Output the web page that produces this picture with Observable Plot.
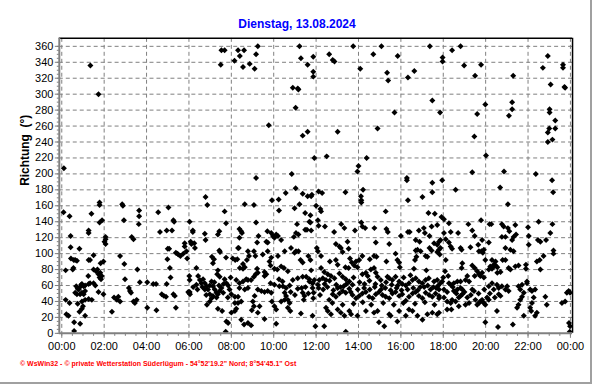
<!DOCTYPE html>
<html><head><meta charset="utf-8">
<script src="https://cdn.jsdelivr.net/npm/d3@7"></script>
<script src="https://cdn.jsdelivr.net/npm/@observablehq/plot@0.6"></script>
<style>
body{margin:0;background:#fff;}
#wrap{position:relative;width:592px;height:384px;box-sizing:border-box;border-right:2px solid #a0a0a0;border-bottom:2px solid #a0a0a0;overflow:hidden;font-family:"Liberation Sans",Arial,sans-serif;background:#fff;}
#title{position:absolute;left:0;width:594px;top:17px;text-align:center;color:#0000ff;font-weight:bold;font-size:12px;z-index:2;}
#foot{position:absolute;left:20px;top:360px;color:#ff0000;font-size:7px;font-weight:bold;z-index:2;white-space:nowrap;}
#chart{position:absolute;left:0;top:0;}
</style></head>
<body>
<div id="wrap">
<div id="title">Dienstag, 13.08.2024</div>
<div id="chart"></div>
<div id="foot">© WsWin32 - © private Wetterstation Süderlügum - 54°52'19.2" Nord; 8°54'45.1" Ost</div>
</div>
<script>
// [minute of day, Richtung in degrees]
const block0006 = [
[6,207],[81,336],[104,300],
[5,152],[22,147],[84,150],[107,164],[107,161],[171,162],[173,160],[219,154],[219,147],[218,137],[176,142],[114,142],[107,139],[273,152],[302,158],[316,142],[318,140],[362,140],
[76,129],[76,126],[25,122],[124,121],[124,118],[124,112],[121,115],[198,121],[203,118],[278,127],[297,129],[312,129],
[25,108],[50,106],[90,98],[26,94],[34,92],[43,91],[38,92],[76,92],[80,92],[110,88],[118,90],[165,97],[177,87],[300,106],[304,106],[299,93],
[330,99],[336,97],[344,100],[348,113],[348,109],[353,103],[355,94],[327,100],[323,101],
[11,79],[33,82],[31,80],
[75,72],[90,80],[97,78],[101,80],[104,74],[109,76],[113,72],[107,70],[111,68],
[76,62],[80,63],[214,80],[306,82],[308,70],[361,72],[179,68],[221,64],[242,64],[259,62],[267,62],[297,62],[190,57],[193,53],[196,51],
[41,59],[48,55],[52,58],[57,62],[62,59],[66,60],[38,51],[43,49],[52,49],[57,51],[62,49],[66,53],[45,56],[55,61],
[90,63],[95,60],[104,52],[118,49],
[11,42],[22,38],[45,37],[57,40],[66,42],[76,43],[85,42],
[148,45],[156,42],[160,46],[165,40],[203,40],[207,38],[212,42],
[283,49],[289,47],[295,46],[316,49],[320,47],[360,51],
[242,32],[268,29],[323,32],[60,34],[57,31],[50,27],[66,22],[142,27],[13,24],[19,22],[35,14],[52,12],[35,3]
];
const block0612 = [
[452,355],[461,355],[499,355],[516,355],[504,348],[555,360],[550,350],[489,342],[513,334],[532,338],[546,332],[450,337],
[673,360],[677,345],[712,347],[696,337],[712,328],[712,322],[654,308],[668,307],[670,306],[662,283],[586,261],[696,253],[682,248],[715,220],[651,200],[550,195],
[407,171],[412,161],[461,153],[465,138],[371,129],[371,127],[405,125],[407,117],[442,124],[446,128],
[365,115],[367,112],[375,113],[377,107],[446,104],[448,102],[425,96],[431,93],[428,88],[465,95],[484,94],[491,92],[497,93],
[381,82],[442,79],[440,74],[447,71],[362,67],[386,72],
[400,68],[405,63],[410,59],[414,55],[419,60],[424,65],[428,59],[433,55],[438,51],[442,49],[447,53],[452,57],[457,51],[461,68],[466,63],[471,60],[475,55],[480,49],
[391,67],[395,63],[405,55],[419,49],[428,47],[438,45],
[372,58],[384,55],[398,58],[409,48],[432,64],[445,60],[458,62],[470,45],[478,70],
[362,52],[411,36],[419,40],[424,44],[442,31],[454,28],[466,15],[471,13],[464,2],[480,26],[490,28],[494,31],[490,38],[499,38],[508,40],[490,46],[499,46],[508,17],[516,11],[527,13],[536,10],
[503,131],[508,128],[510,126],[503,120],[499,107],[518,162],[544,161],[550,139],[557,122],[553,114],[582,128],[583,114],[595,167],[614,168],[615,154],
[634,176],[662,182],[682,175],[696,172],[708,174],[673,162],[659,157],[689,151],[704,148],[666,137],[704,139],[689,130],[694,130],[706,129],[663,126],[670,124],
[593,126],[598,122],[602,120],[607,124],[612,122],[621,117],[657,121],[579,115],
[501,107],[527,103],[544,103],[583,103],[548,97],[530,97],[524,92],[513,87],
[569,99],[593,95],[588,90],[591,85],[631,103],[649,107],[659,101],[663,103],[670,103],[612,97],[676,92],[682,89],[698,97],[704,92],
[518,83],[513,81],[504,82],
[544,71],[549,74],[555,76],[553,81],[574,72],[579,74],[574,77],
[602,81],[610,80],[621,84],[629,82],[640,78],
[494,67],[503,63],[513,65],[522,68],[527,67],[536,67],
[503,57],[518,55],[527,57],
[555,55],[565,53],[574,52],[583,53],[593,51],
[591,63],[602,61],[616,59],[626,59],[635,57],[645,60],[654,67],[668,69],[682,71],[692,71],[701,68],
[615,68],[625,65],[648,52],[660,48],[668,56],[690,58],[698,50],
[631,51],[635,47],[640,42],[631,42],[645,38],[647,28],[640,32],
[679,57],[682,51],[687,47],[685,42],
[710,63],[710,57],[713,51],
[546,47],[541,40],[544,34],[538,29],[555,26],[560,34],
[574,18],[595,40],[602,34],[607,30],[621,40],[607,12],[677,25],[710,22],
[381,61],[358,52],[363,49]
];
const block1218 = [
[825,360],[757,350],[767,343],[772,341],[845,332],[882,350],[905,360],[951,348],[921,327],[924,317],[980,321],[998,329],[1042,360],[1078,346],[1078,341],[1049,292],[1071,277],[942,277],[894,257],[781,253],[750,222],[863,220],[840,210],[837,203],[977,195],[977,192],[1049,189],[1077,192],
[737,176],[727,178],[706,172],[803,177],[847,172],[848,167],[848,164],[853,180],[980,167],[1021,171],[1049,177],
[720,160],[734,153],[732,156],[917,153],[1038,151],[1056,150],
[701,140],[725,142],[727,135],[745,134],[791,137],[800,132],[830,129],[848,139],[851,134],[859,132],[885,132],[919,131],[923,127],[771,127],
[980,127],[985,127],[1011,129],[1025,132],[1028,126],[1047,134],[1063,136],
[960,122],[889,114],[927,112],
[1041,122],[1054,113],[1063,111],[1072,117],[1002,117],[1013,115],
[722,107],[725,103],[776,112],[786,109],[790,107],[809,115],[795,102],[812,106],
[734,97],[1002,104],[1007,105],[1016,103],[1030,97],[1035,96],[1041,107],[1047,104],[1063,102],[1070,99],
[945,100],[950,92],[955,89],[957,83],[1004,96],[1000,92],[884,97],[891,96],[872,93],
[759,90],[776,92],[781,86],
[816,94],[821,89],[833,90],[842,92],[851,97],[803,83],[812,82],[828,85],[837,83],
[919,90],[1032,79],[997,81],
[706,79],[734,82],[743,77],[753,74],[729,67],[739,69],[748,67],[762,72],[772,69],[786,75],[795,71],[804,68],[814,65],[823,61],
[851,74],[861,76],[866,72],[875,80],[884,82],[889,76],
[894,71],[903,67],[922,71],[927,69],[936,67],[945,71],
[701,65],[710,63],[715,67],[725,61],[727,57],
[955,65],[964,62],[974,60],[983,63],[993,67],[1002,69],[1011,65],[1021,63],[1030,67],[1039,69],[1054,65],[1063,67],[1072,63],
[712,44],[731,48],[744,62],[758,66],[777,61],[789,58],[806,62],[826,70],[843,64],[857,62],[871,66],[888,62],[906,60],[918,64],[934,61],[951,60],[968,70],[987,73],[1015,58],[1036,60],[1052,58],[1066,60],
[757,42],[767,49],[776,46],[786,50],[795,53],[804,51],[814,56],[823,48],[833,44],[842,47],[851,50],[861,52],[870,46],[880,44],[889,49],[898,52],[908,48],[917,46],[927,44],[936,50],[945,52],[955,47],[964,49],[974,41],[983,46],[993,50],[1002,52],[1011,47],[1021,44],[1030,51],[1040,48],[1049,46],[1058,50],[1068,44],
[740,55],[752,58],[769,54],[781,57],[798,59],[818,52],[838,55],[856,57],[872,55],[886,58],[904,55],[916,57],[931,54],[948,57],[962,54],[979,55],[995,57],[1008,54],[1026,58],[1044,55],[1060,57],
[748,32],[753,28],[762,24],[781,30],[790,26],[800,22],[814,28],[819,24],[837,22],[861,28],[884,26],[894,28],[898,14],[913,9],[927,24],[931,22],[950,15],[955,28],[974,22],[983,30],[993,28],[1007,22],[1021,17],[1035,24],[1049,26],[1063,24],
[766,38],[795,36],[826,37],[852,39],[876,36],[910,38],[940,36],[967,38],[1000,37],[1028,39],[1055,36],
[718,9],[743,9],[804,2]
];
const block1824 = [
[1129,360],[1105,355],[1139,336],[1187,337],[1170,323],[1278,323],[1376,348],[1362,333],[1419,337],[1419,333],[1384,312],[1423,309],[1425,308],[1275,290],[1275,281],[1266,273],[1199,287],[1176,275],[1381,281],[1381,277],[1397,267],[1397,257],[1380,257],[1376,252],[1376,240],[1389,243],[1168,247],[1201,223],[1162,202],[1252,203],[1342,200],[1388,192],
[1115,180],[1241,183],[1263,162],[1391,177],
[1075,146],[1082,143],[1096,138],[1151,137],[1187,142],[1211,137],[1216,137],[1246,137],[1251,134],[1263,132],[1267,128],[1284,136],[1320,133],[1350,140],[1389,137],
[1082,126],[1101,127],[1122,126],
[1087,118],[1096,114],[1101,109],[1105,106],
[1162,129],[1169,122],[1190,117],[1209,114],[1179,111],[1195,105],[1188,103],
[1246,121],[1256,121],[1275,117],[1279,121],[1286,124],[1270,105],[1279,103],[1256,107],
[1322,122],[1322,111],[1348,117],[1355,115],[1371,117],[1383,126],
[1392,104],[1392,100],
[1068,115],[1072,107],[1068,105],
[1129,107],[1132,105],
[1157,108],[1181,103],[1192,101],[1199,92],[1218,92],[1228,90],[1223,84],[1248,92],[1256,92],
[1345,90],[1353,92],[1355,80],[1314,86],[1314,81],[1364,97],
[1087,92],[1134,88],[1132,82],[1085,78],
[1162,85],[1169,82],[1176,78],[1181,74],[1185,72],[1190,76],[1195,70],[1209,80],[1213,84],[1218,81],[1223,86],[1228,85],[1233,83],[1233,76],[1242,77],[1265,82],[1270,80],[1284,84],[1293,85],
[1080,70],[1094,72],[1107,58],[1117,50],[1140,52],[1158,48],[1180,50],[1196,55],[1212,50],[1226,45],
[1077,65],[1096,63],[1101,61],[1110,63],[1120,65],[1129,65],[1143,67],[1148,72],[1153,65],[1169,72],
[1209,59],[1218,63],[1223,55],[1232,61],[1237,57],[1246,59],[1256,55],[1261,59],[1265,53],[1237,49],[1242,47],
[1293,59],[1298,55],[1303,61],[1308,51],[1317,63],[1317,65],[1303,46],[1298,42],[1293,36],[1289,32],
[1326,55],[1331,53],[1340,55],[1336,45],[1331,38],[1326,32],[1345,26],[1329,28],
[1369,46],[1373,36],
[1425,40],[1430,51],[1435,53],[1439,51],[1416,38],
[1068,47],[1082,45],[1091,40],[1101,38],[1105,42],[1115,40],[1124,45],[1129,47],[1134,49],[1148,45],[1153,38],[1171,42],[1176,36],[1181,38],[1185,40],[1190,42],[1195,38],[1199,36],[1204,45],[1209,42],
[1068,55],[1082,55],[1091,52],[1110,53],[1120,55],[1129,57],[1134,55],[1162,55],[1167,53],
[1068,26],[1091,30],[1103,30],[1124,34],[1143,36],
[1232,28],[1199,14],[1235,8],[1277,11],[1308,22],[1340,22],
[1436,13],[1439,9],[1438,2]
];
const hourTicks = [0,120,240,360,480,600,720,840,960,1080,1200,1320,1440];
const hourLabels = ["00:00","02:00","04:00","06:00","08:00","10:00","12:00","14:00","16:00","18:00","20:00","22:00","00:00"];
const halfHourTicks = [0,30,60,90,120,150,180,210,240,270,300,330,360,390,420,450,480,510,540,570,600,630,660,690,720,750,780,810,840,870,900,930,960,990,1020,1050,1080,1110,1140,1170,1200,1230,1260,1290,1320,1350,1380,1410,1440];
const richtungTicks = [0,20,40,60,80,100,120,140,160,180,200,220,240,260,280,300,320,340,360];
const richtungMinor = d3.range(0, 361, 5);

const data = [...block0006, ...block0612, ...block1218, ...block1824].map(([m, d]) => ({m, d}));

const chart = Plot.plot({
  width: 592, height: 384,
  marginLeft: 59, marginRight: 18, marginTop: 38, marginBottom: 50,
  x: {domain: [-7, 1446], label: null},
  y: {domain: [0, 370], label: null},
  style: {fontFamily: "'Liberation Sans', Arial, sans-serif", fontSize: "11px", color: "black", background: "transparent"},
  marks: [
    Plot.ruleY(richtungTicks.filter(v => v > 0), {stroke: "#808080", strokeDasharray: "4,3", strokeOpacity: 1}),
    Plot.ruleX(hourTicks, {stroke: "#808080", strokeDasharray: "4,3", strokeOpacity: 1}),
    Plot.dot(data, {x: "m", y: "d", symbol: "diamond2", r: 2.7, fill: "black", stroke: "none", clip: true}),
    Plot.ruleY([370], {stroke: "black", strokeWidth: 1.5}),
    Plot.ruleX([1446], {stroke: "black", strokeWidth: 1.5}),
    Plot.ruleX([-7], {stroke: "#808080", strokeWidth: 2}),
    Plot.ruleY([0], {stroke: "#808080", strokeWidth: 2}),
    Plot.axisY(richtungMinor, {tickSize: 2, tickFormat: () => "", stroke: "#808080", label: null}),
    Plot.axisY(richtungTicks, {tickSize: 4, tickPadding: 2, stroke: "#808080", label: null, fill: "black"}),
    Plot.axisX(halfHourTicks, {tickSize: 3, tickFormat: () => "", stroke: "#808080", label: null}),
    Plot.axisX(hourTicks, {tickSize: 5, tickPadding: 4, tickFormat: (d, i) => hourLabels[i], stroke: "#808080", label: null, fill: "black"}),
    Plot.text(["Richtung  (°)"], {frameAnchor: "left", dx: -34, rotate: -90, fontWeight: "bold", fontSize: 12, fill: "black"})
  ]
});
document.getElementById("chart").appendChild(chart);
</script>
</body></html>
